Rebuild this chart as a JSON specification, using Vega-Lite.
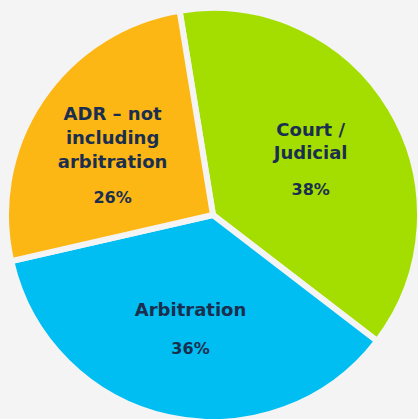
{
  "$schema": "https://vega.github.io/schema/vega-lite/v6.json",
  "width": 410,
  "height": 408,
  "autosize": {"type": "none"},
  "padding": {"left": 8, "top": 11, "right": 0, "bottom": 0},
  "background": "#f4f4f4",
  "config": {"view": {"stroke": null}},
  "data": {"values": [
    {"category": "Court / Judicial", "label": "Court /\nJudicial", "pct": "38%", "value": 38, "rank": 1},
    {"category": "Arbitration", "label": "Arbitration", "pct": "36%", "value": 36, "rank": 2},
    {"category": "ADR", "label": "ADR – not\nincluding\narbitration", "pct": "26%", "value": 26, "rank": 3}
  ]},
  "encoding": {
    "theta": {"field": "value", "type": "quantitative", "stack": true, "scale": {"range": [-0.162, 6.121]}},
    "order": {"field": "rank", "type": "quantitative"},
    "detail": {"field": "category", "type": "nominal"}
  },
  "layer": [
    {
      "mark": {"type": "arc", "outerRadius": 207, "stroke": "#f4f4f4", "strokeWidth": 6},
      "encoding": {
        "color": {"field": "category", "type": "nominal", "legend": null,
          "scale": {"domain": ["Court / Judicial", "Arbitration", "ADR"], "range": ["#a4de00", "#00bef2", "#fdb714"]}}
      }
    },
    {
      "mark": {"type": "text", "radius": 113.8, "dy": -25.5, "font": "DejaVu Sans", "fontWeight": "bold", "fontSize": 18, "lineBreak": "\n", "lineHeight": 23, "fill": "#1a2f4f", "baseline": "middle", "align": "center"},
      "encoding": {"text": {"condition": {"test": "datum.category === 'Court / Judicial'", "field": "label"}, "value": ""}}
    },
    {
      "mark": {"type": "text", "radius": 113.8, "dy": 33, "font": "DejaVu Sans", "fontWeight": "bold", "fontSize": 16, "fill": "#1a2f4f", "baseline": "middle", "align": "center"},
      "encoding": {"text": {"condition": {"test": "datum.category === 'Court / Judicial'", "field": "pct"}, "value": ""}}
    },
    {
      "mark": {"type": "text", "radius": 105.5, "dy": -7, "font": "DejaVu Sans", "fontWeight": "bold", "fontSize": 18, "lineBreak": "\n", "lineHeight": 23, "fill": "#1a2f4f", "baseline": "middle", "align": "center"},
      "encoding": {"text": {"condition": {"test": "datum.category === 'Arbitration'", "field": "label"}, "value": ""}}
    },
    {
      "mark": {"type": "text", "radius": 105.5, "dy": 31, "font": "DejaVu Sans", "fontWeight": "bold", "fontSize": 16, "fill": "#1a2f4f", "baseline": "middle", "align": "center"},
      "encoding": {"text": {"condition": {"test": "datum.category === 'Arbitration'", "field": "pct"}, "value": ""}}
    },
    {
      "mark": {"type": "text", "radius": 121, "dy": -32, "font": "DejaVu Sans", "fontWeight": "bold", "fontSize": 18, "lineBreak": "\n", "lineHeight": 24, "fill": "#1a2f4f", "baseline": "middle", "align": "center"},
      "encoding": {"text": {"condition": {"test": "datum.category === 'ADR'", "field": "label"}, "value": ""}}
    },
    {
      "mark": {"type": "text", "radius": 121, "dy": 51, "font": "DejaVu Sans", "fontWeight": "bold", "fontSize": 16, "fill": "#1a2f4f", "baseline": "middle", "align": "center"},
      "encoding": {"text": {"condition": {"test": "datum.category === 'ADR'", "field": "pct"}, "value": ""}}
    }
  ]
}
